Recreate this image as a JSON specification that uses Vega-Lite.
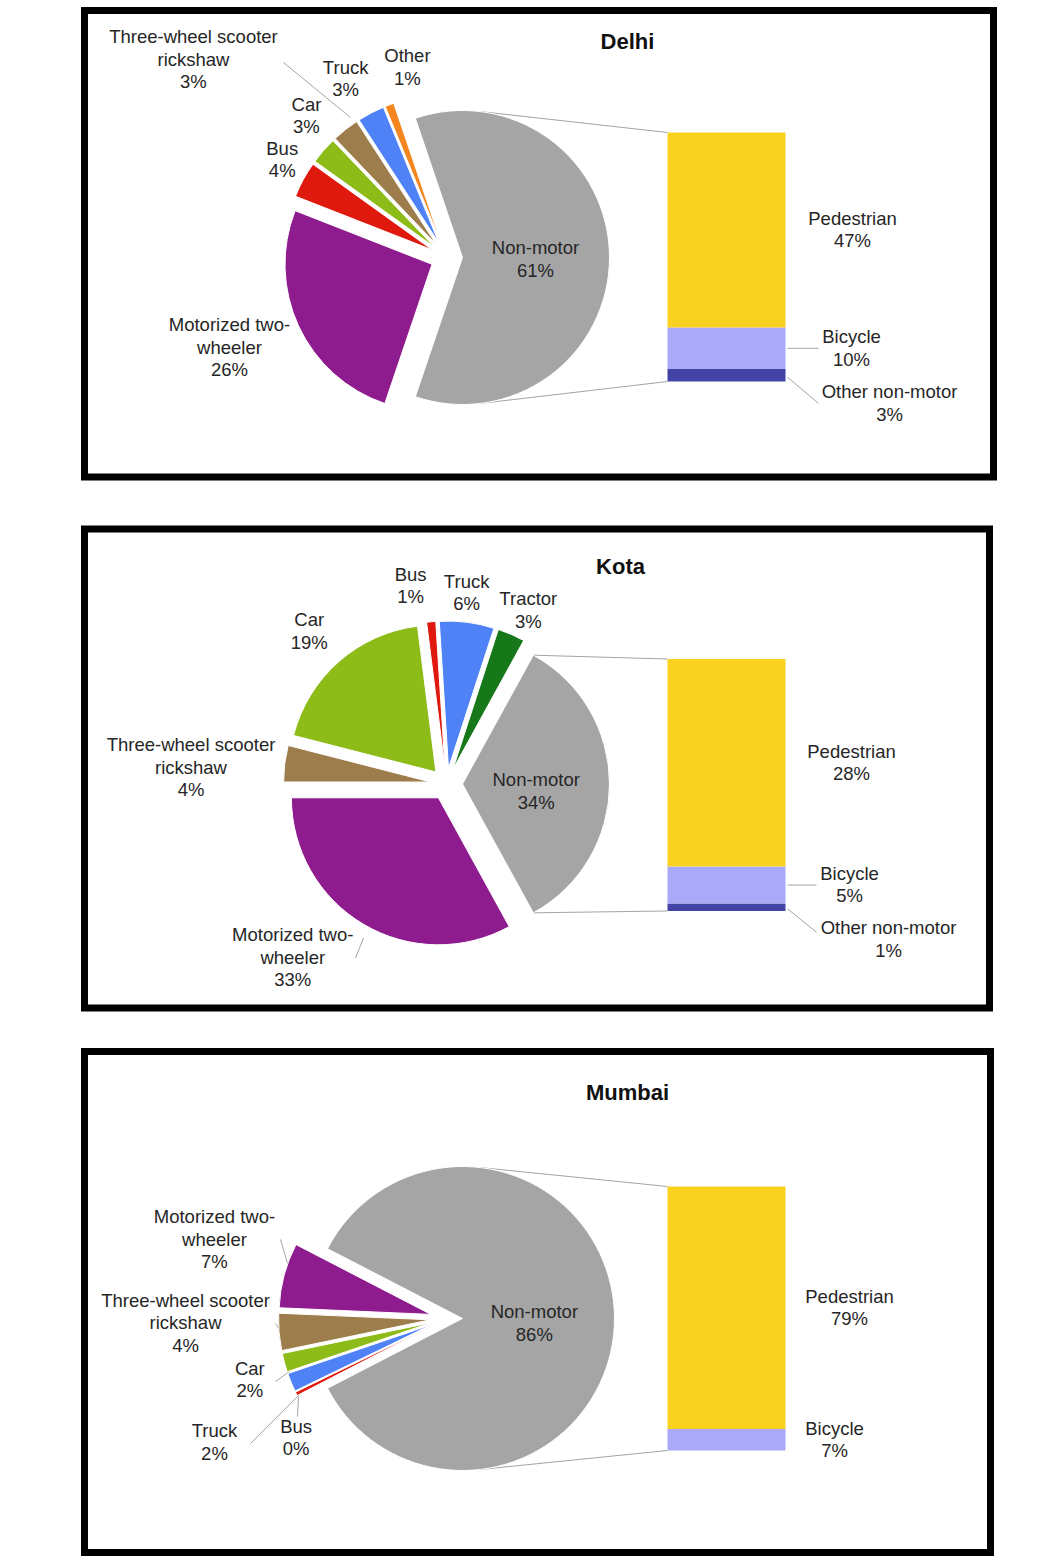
{
"$schema":"https://vega.github.io/schema/vega-lite/v6.json",
"padding":{"left":80.5,"top":6.5,"right":5,"bottom":0},
"background":"#ffffff",
"config":{
 "view":{"stroke":"#000000","strokeWidth":7},
 "text":{"font":"Liberation Sans","fontSize":18.5,"lineHeight":22.5,"lineBreak":"\n","align":"center","baseline":"middle","color":"#262626"},
 "arc":{"stroke":"#ffffff","strokeWidth":1},
 "rule":{"color":"#a3a3a3","strokeWidth":1},
 "title":{"font":"Liberation Sans","fontSize":22,"fontWeight":"bold","color":"#111111","anchor":"middle","frame":"group","offset":0,"baseline":"middle"}
},
"datasets":{
 "dp":[
  {"k":"Non-motor","v":61,"i":0,"lab":"Non-motor\n61%"},
  {"k":"Motorized two-wheeler","v":26,"i":1,"lab":"Motorized two-\nwheeler\n26%"},
  {"k":"Bus","v":4,"i":2,"lab":"Bus\n4%"},
  {"k":"Car","v":3,"i":3,"lab":"Car\n3%"},
  {"k":"Three-wheel scooter rickshaw","v":3,"i":4,"lab":"Three-wheel scooter\nrickshaw\n3%"},
  {"k":"Truck","v":3,"i":5,"lab":"Truck\n3%"},
  {"k":"Other","v":1,"i":6,"lab":"Other\n1%"}
 ],
 "db":[
  {"k":"Other non-motor","v":3,"i":0,"lab":"Other non-motor\n3%"},
  {"k":"Bicycle","v":10,"i":1,"lab":"Bicycle\n10%"},
  {"k":"Pedestrian","v":47,"i":2,"lab":"Pedestrian\n47%"}
 ],
 "kp":[
  {"k":"Non-motor","v":34,"i":0,"lab":"Non-motor\n34%"},
  {"k":"Motorized two-wheeler","v":33,"i":1,"lab":"Motorized two-\nwheeler\n33%"},
  {"k":"Three-wheel scooter rickshaw","v":4,"i":2,"lab":"Three-wheel scooter\nrickshaw\n4%"},
  {"k":"Car","v":19,"i":3,"lab":"Car\n19%"},
  {"k":"Bus","v":1,"i":4,"lab":"Bus\n1%"},
  {"k":"Truck","v":6,"i":5,"lab":"Truck\n6%"},
  {"k":"Tractor","v":3,"i":6,"lab":"Tractor\n3%"}
 ],
 "kb":[
  {"k":"Other non-motor","v":1,"i":0,"lab":"Other non-motor\n1%"},
  {"k":"Bicycle","v":5,"i":1,"lab":"Bicycle\n5%"},
  {"k":"Pedestrian","v":28,"i":2,"lab":"Pedestrian\n28%"}
 ],
 "mp":[
  {"k":"Non-motor","v":86,"i":0,"lab":"Non-motor\n86%"},
  {"k":"Bus","v":0.4,"i":1,"lab":"Bus\n0%"},
  {"k":"Truck","v":2,"i":2,"lab":"Truck\n2%"},
  {"k":"Car","v":2,"i":3,"lab":"Car\n2%"},
  {"k":"Three-wheel scooter rickshaw","v":4,"i":4,"lab":"Three-wheel scooter\nrickshaw\n4%"},
  {"k":"Motorized two-wheeler","v":7,"i":5,"lab":"Motorized two-\nwheeler\n7%"}
 ],
 "mb":[
  {"k":"Bicycle","v":7,"i":0,"lab":"Bicycle\n7%"},
  {"k":"Pedestrian","v":79,"i":1,"lab":"Pedestrian\n79%"}
 ]
},
"resolve":{"scale":{"theta":"independent","color":"shared"}},
"spacing":36,
"vconcat":[
 {"spacing":44.5,"resolve":{"scale":{"theta":"independent","color":"shared"}},"vconcat":[
  {"width":909,"height":466.5,
   "title":{"text":"Delhi","dx":88.5,"dy":47},
   "resolve":{"scale":{"y":"independent"}},
   "layer":[
    {"data":{"name":"dp"},
     "transform":[{"filter":"datum.k === 'Non-motor'"}],
     "encoding":{
      "x":{"datum":"pie","type":"nominal","scale":{"type":"point","domain":["pie","bar"],"range":[362,642],"padding":0},"axis":null},
      "y":{"datum":"pie","type":"nominal","scale":{"type":"point","domain":["pie"],"range":[247,247]},"axis":null},
      "x2":{"datum":"bar"},
      "y2":{"datum":"pie"}
     },
     "layer":[
      {"mark":{"type":"rule","xOffset":32.4,"yOffset":-146.1,"x2Offset":-59,"y2Offset":-125}},
      {"mark":{"type":"rule","xOffset":32.4,"yOffset":146.1,"x2Offset":-59,"y2Offset":124}},
      {"mark":{"type":"rule","xOffset":-163,"yOffset":-195,"x2Offset":-96,"y2Offset":-140},"encoding":{"x2":{"datum":"pie"}}}
     ]},
    {"data":{"name":"dp"},
     "transform":[{"stack":"v","groupby":[],"sort":[{"field":"i","order":"ascending"}],"as":["t0","t1"]}],
     "encoding":{
      "x":{"datum":"pie","type":"nominal","scale":{"type":"point","domain":["pie","bar"],"range":[362,642],"padding":0},"axis":null},
      "y":{"datum":"pie","type":"nominal","scale":{"type":"point","domain":["pie"],"range":[247,247]},"axis":null},
      "theta":{"field":"t0","type":"quantitative","stack":null,"scale":{"domain":[0,101],"range":[-0.32657,5.95662]}},
      "color":{"field":"k","type":"nominal","legend":null,"scale":{"domain":["Non-motor","Motorized two-wheeler","Bus","Car","Three-wheel scooter rickshaw","Truck","Other","Tractor","Pedestrian","Bicycle","Other non-motor"],"range":["#A5A5A5","#8E1C8E","#E0190F","#8DBB17","#9E7D4C","#4F82F7","#F5861F","#17781A","#F9D11F","#A9A9F7","#4343A6"]}}
     },
     "layer":[
      {"transform":[{"filter":"datum.k === 'Non-motor'"}],"mark":{"type":"arc","radius":147,"xOffset":16,"yOffset":0},"encoding":{"theta2":{"field":"t1"}}},
      {"transform":[{"filter":"datum.k === 'Motorized two-wheeler'"}],"mark":{"type":"arc","radius":147,"xOffset":-14.5,"yOffset":6.8},"encoding":{"theta2":{"field":"t1"}}},
      {"transform":[{"filter":"datum.k === 'Bus'"}],"mark":{"type":"arc","radius":147,"xOffset":-14.1,"yOffset":-7.6},"encoding":{"theta2":{"field":"t1"}}},
      {"transform":[{"filter":"datum.k === 'Car'"}],"mark":{"type":"arc","radius":147,"xOffset":-12.1,"yOffset":-10.5},"encoding":{"theta2":{"field":"t1"}}},
      {"transform":[{"filter":"datum.k === 'Three-wheel scooter rickshaw'"}],"mark":{"type":"arc","radius":147,"xOffset":-9.9,"yOffset":-12.6},"encoding":{"theta2":{"field":"t1"}}},
      {"transform":[{"filter":"datum.k === 'Truck'"}],"mark":{"type":"arc","radius":147,"xOffset":-7.4,"yOffset":-14.2},"encoding":{"theta2":{"field":"t1"}}},
      {"transform":[{"filter":"datum.k === 'Other'"}],"mark":{"type":"arc","radius":147,"xOffset":-5.6,"yOffset":-15.0},"encoding":{"theta2":{"field":"t1"}}},
      {"transform":[{"filter":"datum.k === 'Non-motor'"}],"mark":{"type":"text","radius":89,"thetaOffset":1.920,"dy":-11.25},"encoding":{"text":{"field":"lab"},"color":{"value":"#262626"}}},
      {"transform":[{"filter":"datum.k === 'Motorized two-wheeler'"}],"mark":{"type":"text","radius":235,"thetaOffset":0.851,"dy":-22.5},"encoding":{"text":{"field":"lab"},"color":{"value":"#262626"}}},
      {"transform":[{"filter":"datum.k === 'Bus'"}],"mark":{"type":"text","radius":191,"thetaOffset":0.162,"dy":-11.25},"encoding":{"text":{"field":"lab"},"color":{"value":"#262626"}}},
      {"transform":[{"filter":"datum.k === 'Car'"}],"mark":{"type":"text","radius":199,"thetaOffset":0.168,"dy":-11.25},"encoding":{"text":{"field":"lab"},"color":{"value":"#262626"}}},
      {"transform":[{"filter":"datum.k === 'Three-wheel scooter rickshaw'"}],"mark":{"type":"text","radius":321,"thetaOffset":-0.146,"dy":-22.5},"encoding":{"text":{"field":"lab"},"color":{"value":"#262626"}}},
      {"transform":[{"filter":"datum.k === 'Truck'"}],"mark":{"type":"text","radius":205,"thetaOffset":0.061,"dy":-11.25},"encoding":{"text":{"field":"lab"},"color":{"value":"#262626"}}},
      {"transform":[{"filter":"datum.k === 'Other'"}],"mark":{"type":"text","radius":194,"thetaOffset":0.186,"dy":-11.25},"encoding":{"text":{"field":"lab"},"color":{"value":"#262626"}}}
     ]},
    {"data":{"name":"db"},
     "transform":[{"stack":"v","groupby":[],"sort":[{"field":"i","order":"ascending"}],"as":["b0","b1"]}],
     "encoding":{"x":{"datum":"bar","type":"nominal","scale":{"type":"point","domain":["pie","bar"],"range":[362,642],"padding":0},"axis":null}},
     "layer":[
      {"mark":{"type":"bar","width":118},"encoding":{"y":{"field":"b0","type":"quantitative","scale":{"domain":[0,60],"range":[371,122],"nice":false,"zero":false},"axis":null},"y2":{"field":"b1"},
        "color":{"field":"k","type":"nominal","legend":null,"scale":{"domain":["Non-motor","Motorized two-wheeler","Bus","Car","Three-wheel scooter rickshaw","Truck","Other","Tractor","Pedestrian","Bicycle","Other non-motor"],"range":["#A5A5A5","#8E1C8E","#E0190F","#8DBB17","#9E7D4C","#4F82F7","#F5861F","#17781A","#F9D11F","#A9A9F7","#4343A6"]}}}},
      {"transform":[{"fold":["b0","b1"],"as":["e","p"]},{"aggregate":[{"op":"mean","field":"p","as":"m"}],"groupby":["k","lab"]},{"filter":"datum.k === 'Pedestrian'"}],"mark":{"type":"text","dx":126,"dy":-11.25},"encoding":{"y":{"field":"m","type":"quantitative","scale":{"domain":[0,60],"range":[371,122],"nice":false,"zero":false},"axis":null},"text":{"field":"lab"}}},
      {"transform":[{"fold":["b0","b1"],"as":["e","p"]},{"aggregate":[{"op":"mean","field":"p","as":"m"}],"groupby":["k","lab"]},{"filter":"datum.k === 'Bicycle'"}],"mark":{"type":"text","dx":125,"dy":-11.25},"encoding":{"y":{"field":"m","type":"quantitative","scale":{"domain":[0,60],"range":[371,122],"nice":false,"zero":false},"axis":null},"text":{"field":"lab"}}},
      {"transform":[{"fold":["b0","b1"],"as":["e","p"]},{"aggregate":[{"op":"mean","field":"p","as":"m"}],"groupby":["k","lab"]},{"filter":"datum.k === 'Other non-motor'"}],"mark":{"type":"text","dx":163,"dy":16.75},"encoding":{"y":{"field":"m","type":"quantitative","scale":{"domain":[0,60],"range":[371,122],"nice":false,"zero":false},"axis":null},"text":{"field":"lab"}}},
      {"transform":[{"fold":["b0","b1"],"as":["e","p"]},{"aggregate":[{"op":"mean","field":"p","as":"m"}],"groupby":["k","lab"]},{"filter":"datum.k === 'Bicycle'"}],"mark":{"type":"rule","xOffset":61,"x2Offset":92},"encoding":{"x2":{"datum":"bar"},"y":{"field":"m","type":"quantitative","scale":{"domain":[0,60],"range":[371,122],"nice":false,"zero":false},"axis":null}}},
      {"transform":[{"fold":["b0","b1"],"as":["e","p"]},{"aggregate":[{"op":"mean","field":"p","as":"m"}],"groupby":["k","lab"]},{"filter":"datum.k === 'Other non-motor'"}],"mark":{"type":"rule","xOffset":61,"x2Offset":92,"yOffset":2,"y2Offset":28},"encoding":{"x2":{"datum":"bar"},"y":{"field":"m","type":"quantitative","scale":{"domain":[0,60],"range":[371,122],"nice":false,"zero":false},"axis":null},"y2":{"field":"m"}}}
     ]}
   ]},
  {"width":905,"height":479,
   "title":{"text":"Kota","dx":83.5,"dy":54},
   "resolve":{"scale":{"y":"independent"}},
   "layer":[
    {"data":{"name":"kp"},
     "transform":[{"filter":"datum.k === 'Non-motor'"}],
     "encoding":{
      "x":{"datum":"pie","type":"nominal","scale":{"type":"point","domain":["pie","bar"],"range":[362,642],"padding":0},"axis":null},
      "y":{"datum":"pie","type":"nominal","scale":{"type":"point","domain":["pie"],"range":[255,255]},"axis":null},
      "x2":{"datum":"bar"},
      "y2":{"datum":"pie"}
     },
     "layer":[
      {"mark":{"type":"rule","xOffset":86.8,"yOffset":-128.8,"x2Offset":-59,"y2Offset":-125}},
      {"mark":{"type":"rule","xOffset":86.8,"yOffset":128.8,"x2Offset":-59,"y2Offset":127}},
      {"mark":{"type":"rule","xOffset":-91,"yOffset":174,"x2Offset":-83,"y2Offset":154},"encoding":{"x2":{"datum":"pie"}}}
     ]},
    {"data":{"name":"kp"},
     "transform":[{"stack":"v","groupby":[],"sort":[{"field":"i","order":"ascending"}],"as":["t0","t1"]}],
     "encoding":{
      "x":{"datum":"pie","type":"nominal","scale":{"type":"point","domain":["pie","bar"],"range":[362,642],"padding":0},"axis":null},
      "y":{"datum":"pie","type":"nominal","scale":{"type":"point","domain":["pie"],"range":[255,255]},"axis":null},
      "theta":{"field":"t0","type":"quantitative","stack":null,"scale":{"domain":[0,100],"range":[0.50265,6.78584]}},
      "color":{"field":"k","type":"nominal","legend":null,"scale":{"domain":["Non-motor","Motorized two-wheeler","Bus","Car","Three-wheel scooter rickshaw","Truck","Other","Tractor","Pedestrian","Bicycle","Other non-motor"],"range":["#A5A5A5","#8E1C8E","#E0190F","#8DBB17","#9E7D4C","#4F82F7","#F5861F","#17781A","#F9D11F","#A9A9F7","#4343A6"]}}
     },
     "layer":[
      {"transform":[{"filter":"datum.k === 'Non-motor'"}],"mark":{"type":"arc","radius":147,"xOffset":16,"yOffset":0},"encoding":{"theta2":{"field":"t1"}}},
      {"transform":[{"filter":"datum.k === 'Motorized two-wheeler'"}],"mark":{"type":"arc","radius":147,"xOffset":-8.1,"yOffset":13.8},"encoding":{"theta2":{"field":"t1"}}},
      {"transform":[{"filter":"datum.k === 'Three-wheel scooter rickshaw'"}],"mark":{"type":"arc","radius":147,"xOffset":-15.9,"yOffset":-2.0},"encoding":{"theta2":{"field":"t1"}}},
      {"transform":[{"filter":"datum.k === 'Car'"}],"mark":{"type":"arc","radius":147,"xOffset":-10.6,"yOffset":-12.0},"encoding":{"theta2":{"field":"t1"}}},
      {"transform":[{"filter":"datum.k === 'Bus'"}],"mark":{"type":"arc","radius":147,"xOffset":-1.5,"yOffset":-15.9},"encoding":{"theta2":{"field":"t1"}}},
      {"transform":[{"filter":"datum.k === 'Truck'"}],"mark":{"type":"arc","radius":147,"xOffset":2.0,"yOffset":-15.9},"encoding":{"theta2":{"field":"t1"}}},
      {"transform":[{"filter":"datum.k === 'Tractor'"}],"mark":{"type":"arc","radius":147,"xOffset":6.4,"yOffset":-14.7},"encoding":{"theta2":{"field":"t1"}}},
      {"transform":[{"filter":"datum.k === 'Non-motor'"}],"mark":{"type":"text","radius":90,"thetaOffset":1.152,"dy":-11.25},"encoding":{"text":{"field":"lab"},"color":{"value":"#262626"}}},
      {"transform":[{"filter":"datum.k === 'Motorized two-wheeler'"}],"mark":{"type":"text","radius":232,"thetaOffset":1.227,"dy":-22.5},"encoding":{"text":{"field":"lab"},"color":{"value":"#262626"}}},
      {"transform":[{"filter":"datum.k === 'Three-wheel scooter rickshaw'"}],"mark":{"type":"text","radius":256,"thetaOffset":0.063,"dy":-22.5},"encoding":{"text":{"field":"lab"},"color":{"value":"#262626"}}},
      {"transform":[{"filter":"datum.k === 'Car'"}],"mark":{"type":"text","radius":205,"thetaOffset":0.586,"dy":-11.25},"encoding":{"text":{"field":"lab"},"color":{"value":"#262626"}}},
      {"transform":[{"filter":"datum.k === 'Bus'"}],"mark":{"type":"text","radius":201,"thetaOffset":-0.054,"dy":-11.25},"encoding":{"text":{"field":"lab"},"color":{"value":"#262626"}}},
      {"transform":[{"filter":"datum.k === 'Truck'"}],"mark":{"type":"text","radius":192,"thetaOffset":0.168,"dy":-11.25},"encoding":{"text":{"field":"lab"},"color":{"value":"#262626"}}},
      {"transform":[{"filter":"datum.k === 'Tractor'"}],"mark":{"type":"text","radius":192,"thetaOffset":0.126,"dy":-11.25},"encoding":{"text":{"field":"lab"},"color":{"value":"#262626"}}}
     ]},
    {"data":{"name":"kb"},
     "transform":[{"stack":"v","groupby":[],"sort":[{"field":"i","order":"ascending"}],"as":["b0","b1"]}],
     "encoding":{"x":{"datum":"bar","type":"nominal","scale":{"type":"point","domain":["pie","bar"],"range":[362,642],"padding":0},"axis":null}},
     "layer":[
      {"mark":{"type":"bar","width":118},"encoding":{"y":{"field":"b0","type":"quantitative","scale":{"domain":[0,34],"range":[382,130],"nice":false,"zero":false},"axis":null},"y2":{"field":"b1"},
        "color":{"field":"k","type":"nominal","legend":null,"scale":{"domain":["Non-motor","Motorized two-wheeler","Bus","Car","Three-wheel scooter rickshaw","Truck","Other","Tractor","Pedestrian","Bicycle","Other non-motor"],"range":["#A5A5A5","#8E1C8E","#E0190F","#8DBB17","#9E7D4C","#4F82F7","#F5861F","#17781A","#F9D11F","#A9A9F7","#4343A6"]}}}},
      {"transform":[{"fold":["b0","b1"],"as":["e","p"]},{"aggregate":[{"op":"mean","field":"p","as":"m"}],"groupby":["k","lab"]},{"filter":"datum.k === 'Pedestrian'"}],"mark":{"type":"text","dx":125,"dy":-11.25},"encoding":{"y":{"field":"m","type":"quantitative","scale":{"domain":[0,34],"range":[382,130],"nice":false,"zero":false},"axis":null},"text":{"field":"lab"}}},
      {"transform":[{"fold":["b0","b1"],"as":["e","p"]},{"aggregate":[{"op":"mean","field":"p","as":"m"}],"groupby":["k","lab"]},{"filter":"datum.k === 'Bicycle'"}],"mark":{"type":"text","dx":123,"dy":-11.25},"encoding":{"y":{"field":"m","type":"quantitative","scale":{"domain":[0,34],"range":[382,130],"nice":false,"zero":false},"axis":null},"text":{"field":"lab"}}},
      {"transform":[{"fold":["b0","b1"],"as":["e","p"]},{"aggregate":[{"op":"mean","field":"p","as":"m"}],"groupby":["k","lab"]},{"filter":"datum.k === 'Other non-motor'"}],"mark":{"type":"text","dx":162,"dy":20.75},"encoding":{"y":{"field":"m","type":"quantitative","scale":{"domain":[0,34],"range":[382,130],"nice":false,"zero":false},"axis":null},"text":{"field":"lab"}}},
      {"transform":[{"fold":["b0","b1"],"as":["e","p"]},{"aggregate":[{"op":"mean","field":"p","as":"m"}],"groupby":["k","lab"]},{"filter":"datum.k === 'Bicycle'"}],"mark":{"type":"rule","xOffset":61,"x2Offset":90},"encoding":{"x2":{"datum":"bar"},"y":{"field":"m","type":"quantitative","scale":{"domain":[0,34],"range":[382,130],"nice":false,"zero":false},"axis":null}}},
      {"transform":[{"fold":["b0","b1"],"as":["e","p"]},{"aggregate":[{"op":"mean","field":"p","as":"m"}],"groupby":["k","lab"]},{"filter":"datum.k === 'Other non-motor'"}],"mark":{"type":"rule","xOffset":61,"x2Offset":90,"yOffset":1.5,"y2Offset":25},"encoding":{"x2":{"datum":"bar"},"y":{"field":"m","type":"quantitative","scale":{"domain":[0,34],"range":[382,130],"nice":false,"zero":false},"axis":null},"y2":{"field":"m"}}}
     ]}
   ]}
 ]},
 {"width":906,"height":501,
  "title":{"text":"Mumbai","dx":90,"dy":57},
  "resolve":{"scale":{"y":"independent"}},
  "layer":[
   {"data":{"name":"mp"},
    "transform":[{"filter":"datum.k === 'Non-motor'"}],
    "encoding":{
     "x":{"datum":"pie","type":"nominal","scale":{"type":"point","domain":["pie","bar"],"range":[362,642],"padding":0},"axis":null},
     "y":{"datum":"pie","type":"nominal","scale":{"type":"point","domain":["pie"],"range":[267,267]},"axis":null},
     "x2":{"datum":"pie"},
     "y2":{"datum":"pie"}
    },
    "layer":[
     {"mark":{"type":"rule","xOffset":31.4,"yOffset":-151.2,"x2Offset":-59,"y2Offset":-132},"encoding":{"x2":{"datum":"bar"}}},
     {"mark":{"type":"rule","xOffset":31.4,"yOffset":151.2,"x2Offset":-59,"y2Offset":132},"encoding":{"x2":{"datum":"bar"}}},
     {"mark":{"type":"rule","xOffset":-166,"yOffset":-79,"x2Offset":-156,"y2Offset":-45}},
     {"mark":{"type":"rule","xOffset":-171,"yOffset":5,"x2Offset":-157,"y2Offset":26}},
     {"mark":{"type":"rule","xOffset":-171,"yOffset":63,"x2Offset":-153,"y2Offset":50}},
     {"mark":{"type":"rule","xOffset":-196,"yOffset":125,"x2Offset":-146,"y2Offset":75}},
     {"mark":{"type":"rule","xOffset":-148,"yOffset":78,"x2Offset":-149,"y2Offset":98}}
    ]},
   {"data":{"name":"mp"},
    "transform":[{"stack":"v","groupby":[],"sort":[{"field":"i","order":"ascending"}],"as":["t0","t1"]}],
    "encoding":{
     "x":{"datum":"pie","type":"nominal","scale":{"type":"point","domain":["pie","bar"],"range":[362,642],"padding":0},"axis":null},
     "y":{"datum":"pie","type":"nominal","scale":{"type":"point","domain":["pie"],"range":[267,267]},"axis":null},
     "theta":{"field":"t0","type":"quantitative","stack":null,"scale":{"domain":[0,101.4],"range":[-1.09363,5.18956]}},
     "color":{"field":"k","type":"nominal","legend":null,"scale":{"domain":["Non-motor","Motorized two-wheeler","Bus","Car","Three-wheel scooter rickshaw","Truck","Other","Tractor","Pedestrian","Bicycle","Other non-motor"],"range":["#A5A5A5","#8E1C8E","#E0190F","#8DBB17","#9E7D4C","#4F82F7","#F5861F","#17781A","#F9D11F","#A9A9F7","#4343A6"]}}
    },
    "layer":[
     {"transform":[{"filter":"datum.k === 'Non-motor'"}],"mark":{"type":"arc","radius":152,"xOffset":16,"yOffset":0},"encoding":{"theta2":{"field":"t1"}}},
     {"transform":[{"filter":"datum.k === 'Bus'"}],"mark":{"type":"arc","radius":152,"xOffset":-14.3,"yOffset":7.2},"encoding":{"theta2":{"field":"t1"}}},
     {"transform":[{"filter":"datum.k === 'Truck'"}],"mark":{"type":"arc","radius":152,"xOffset":-14.8,"yOffset":6.1},"encoding":{"theta2":{"field":"t1"}}},
     {"transform":[{"filter":"datum.k === 'Car'"}],"mark":{"type":"arc","radius":152,"xOffset":-15.4,"yOffset":4.2},"encoding":{"theta2":{"field":"t1"}}},
     {"transform":[{"filter":"datum.k === 'Three-wheel scooter rickshaw'"}],"mark":{"type":"arc","radius":152,"xOffset":-16.0,"yOffset":1.3},"encoding":{"theta2":{"field":"t1"}}},
     {"transform":[{"filter":"datum.k === 'Motorized two-wheeler'"}],"mark":{"type":"arc","radius":152,"xOffset":-15.5,"yOffset":-4.1},"encoding":{"theta2":{"field":"t1"}}},
     {"transform":[{"filter":"datum.k === 'Non-motor'"}],"mark":{"type":"text","radius":88,"thetaOffset":2.723,"dy":-11.25},"encoding":{"text":{"field":"lab"},"color":{"value":"#262626"}}},
     {"transform":[{"filter":"datum.k === 'Bus'"}],"mark":{"type":"text","radius":192,"thetaOffset":-0.194,"dy":-11.25},"encoding":{"text":{"field":"lab"},"color":{"value":"#262626"}}},
     {"transform":[{"filter":"datum.k === 'Truck'"}],"mark":{"type":"text","radius":263,"thetaOffset":-0.038,"dy":-11.25},"encoding":{"text":{"field":"lab"},"color":{"value":"#262626"}}},
     {"transform":[{"filter":"datum.k === 'Car'"}],"mark":{"type":"text","radius":206,"thetaOffset":0.026,"dy":-11.25},"encoding":{"text":{"field":"lab"},"color":{"value":"#262626"}}},
     {"transform":[{"filter":"datum.k === 'Three-wheel scooter rickshaw'"}],"mark":{"type":"text","radius":261,"thetaOffset":0.187,"dy":-22.5},"encoding":{"text":{"field":"lab"},"color":{"value":"#262626"}}},
     {"transform":[{"filter":"datum.k === 'Motorized two-wheeler'"}],"mark":{"type":"text","radius":245,"thetaOffset":0.283,"dy":-22.5},"encoding":{"text":{"field":"lab"},"color":{"value":"#262626"}}}
    ]},
   {"data":{"name":"mb"},
    "transform":[{"stack":"v","groupby":[],"sort":[{"field":"i","order":"ascending"}],"as":["b0","b1"]}],
    "encoding":{"x":{"datum":"bar","type":"nominal","scale":{"type":"point","domain":["pie","bar"],"range":[362,642],"padding":0},"axis":null}},
    "layer":[
     {"mark":{"type":"bar","width":118},"encoding":{"y":{"field":"b0","type":"quantitative","scale":{"domain":[0,86],"range":[399,135],"nice":false,"zero":false},"axis":null},"y2":{"field":"b1"},
       "color":{"field":"k","type":"nominal","legend":null,"scale":{"domain":["Non-motor","Motorized two-wheeler","Bus","Car","Three-wheel scooter rickshaw","Truck","Other","Tractor","Pedestrian","Bicycle","Other non-motor"],"range":["#A5A5A5","#8E1C8E","#E0190F","#8DBB17","#9E7D4C","#4F82F7","#F5861F","#17781A","#F9D11F","#A9A9F7","#4343A6"]}}}},
     {"transform":[{"fold":["b0","b1"],"as":["e","p"]},{"aggregate":[{"op":"mean","field":"p","as":"m"}],"groupby":["k","lab"]},{"filter":"datum.k === 'Pedestrian'"}],"mark":{"type":"text","dx":123,"dy":-11.25},"encoding":{"y":{"field":"m","type":"quantitative","scale":{"domain":[0,86],"range":[399,135],"nice":false,"zero":false},"axis":null},"text":{"field":"lab"}}},
     {"transform":[{"fold":["b0","b1"],"as":["e","p"]},{"aggregate":[{"op":"mean","field":"p","as":"m"}],"groupby":["k","lab"]},{"filter":"datum.k === 'Bicycle'"}],"mark":{"type":"text","dx":108,"dy":-11.25},"encoding":{"y":{"field":"m","type":"quantitative","scale":{"domain":[0,86],"range":[399,135],"nice":false,"zero":false},"axis":null},"text":{"field":"lab"}}}
    ]}
  ]}
]
}
